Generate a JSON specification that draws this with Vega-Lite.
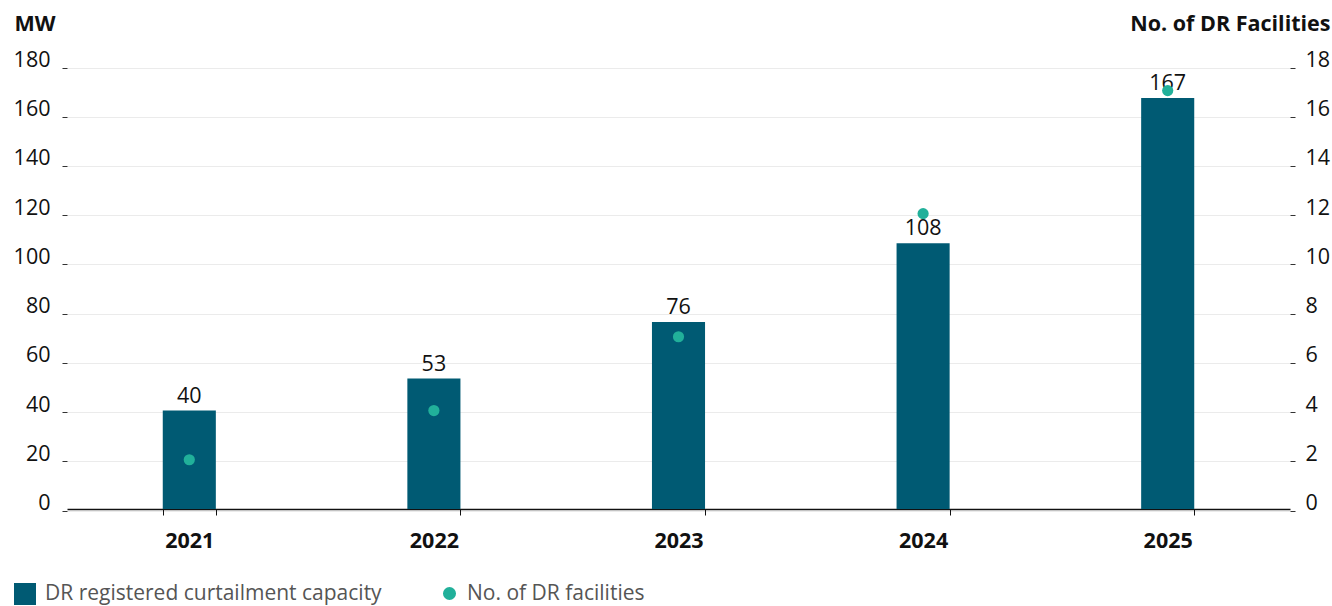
{
  "$schema": "https://vega.github.io/schema/vega-lite/v6.json",
  "width": 1223,
  "height": 443,
  "autosize": {"type": "none"},
  "padding": {"left": 67, "top": 66, "right": 42, "bottom": 97},
  "background": "white",
  "config": {
    "font": "Open Sans",
    "view": {"stroke": null},
    "axis": {"labelFont": "Open Sans", "titleFont": "Open Sans"},
    "legend": {"labelFont": "Open Sans"}
  },
  "data": {
    "values": [
      {"year": "2021", "mw": 40, "facilities": 2},
      {"year": "2022", "mw": 53, "facilities": 4},
      {"year": "2023", "mw": 76, "facilities": 7},
      {"year": "2024", "mw": 108, "facilities": 12},
      {"year": "2025", "mw": 167, "facilities": 17}
    ]
  },
  "encoding": {
    "x": {
      "field": "year",
      "type": "ordinal",
      "scale": {"paddingInner": 0.783, "paddingOuter": 0.3915},
      "axis": {
        "title": null,
        "labelAngle": 0,
        "labelFontSize": 21.5,
        "labelFontWeight": "bold",
        "labelColor": "#111111",
        "labelPadding": 15,
        "tickBand": "extent",
        "tickSize": 6,
        "tickColor": "#111111",
        "domainColor": "#111111",
        "domainWidth": 1.5,
        "grid": false
      }
    }
  },
  "layer": [
    {
      "layer": [
        {
          "mark": {"type": "bar"},
          "encoding": {
            "y": {
              "field": "mw",
              "type": "quantitative",
              "scale": {"domain": [0, 180], "nice": false},
              "axis": {
                "title": "MW",
                "titleAngle": 0,
                "titleAlign": "left",
                "titleBaseline": "middle",
                "titleX": -53,
                "titleY": -42,
                "titleFontSize": 21.5,
                "titleFontWeight": "bold",
                "titleColor": "#111111",
                "values": [0, 20, 40, 60, 80, 100, 120, 140, 160, 180],
                "labelFontSize": 21.5,
                "labelColor": "#111111",
                "labelPadding": 12,
                "labelOffset": -7,
                "tickSize": 5,
                "tickColor": "#333333",
                "tickOffset": 1.5,
                "domain": false,
                "grid": true,
                "gridColor": "#ebebeb",
                "gridWidth": 1
              }
            },
            "fill": {
              "datum": "DR registered curtailment capacity",
              "type": "nominal",
              "scale": {"range": ["#005A73"]},
              "legend": {
                "title": null,
                "orient": "none",
                "legendX": -53,
                "legendY": 517,
                "symbolType": "square",
                "symbolSize": 484,
                "symbolStrokeWidth": 0,
                "labelFontSize": 21,
                "labelColor": "#555555",
                "labelOffset": 9,
                "labelLimit": 600
              }
            }
          }
        },
        {
          "mark": {"type": "text", "baseline": "alphabetic", "dy": -8, "fontSize": 21.5, "color": "#111111"},
          "encoding": {
            "y": {"field": "mw", "type": "quantitative"},
            "text": {"field": "mw", "type": "quantitative"}
          }
        }
      ]
    },
    {
      "mark": {"type": "point", "filled": true, "opacity": 1, "size": 125},
      "encoding": {
        "y": {
          "field": "facilities",
          "type": "quantitative",
          "scale": {"domain": [0, 18], "nice": false},
          "axis": {
            "orient": "right",
            "title": "No. of DR Facilities",
            "titleAngle": 0,
            "titleAlign": "right",
            "titleBaseline": "middle",
            "titleX": 40,
            "titleY": -42,
            "titleFontSize": 21.5,
            "titleFontWeight": "bold",
            "titleColor": "#111111",
            "values": [0, 2, 4, 6, 8, 10, 12, 14, 16, 18],
            "labelFontSize": 21.5,
            "labelColor": "#111111",
            "labelPadding": 10,
            "labelOffset": -7,
            "tickSize": 5,
            "tickColor": "#333333",
            "tickOffset": 1.5,
            "domain": false,
            "grid": false
          }
        },
        "color": {
          "datum": "No. of DR facilities",
          "type": "nominal",
          "scale": {"range": ["#21B09A"]},
          "legend": {
            "title": null,
            "orient": "none",
            "legendX": 372,
            "legendY": 517,
            "symbolType": "circle",
            "symbolSize": 170,
            "labelFontSize": 21,
            "labelColor": "#555555",
            "labelOffset": 7,
            "labelLimit": 600
          }
        }
      }
    }
  ],
  "resolve": {"scale": {"y": "independent"}}
}
